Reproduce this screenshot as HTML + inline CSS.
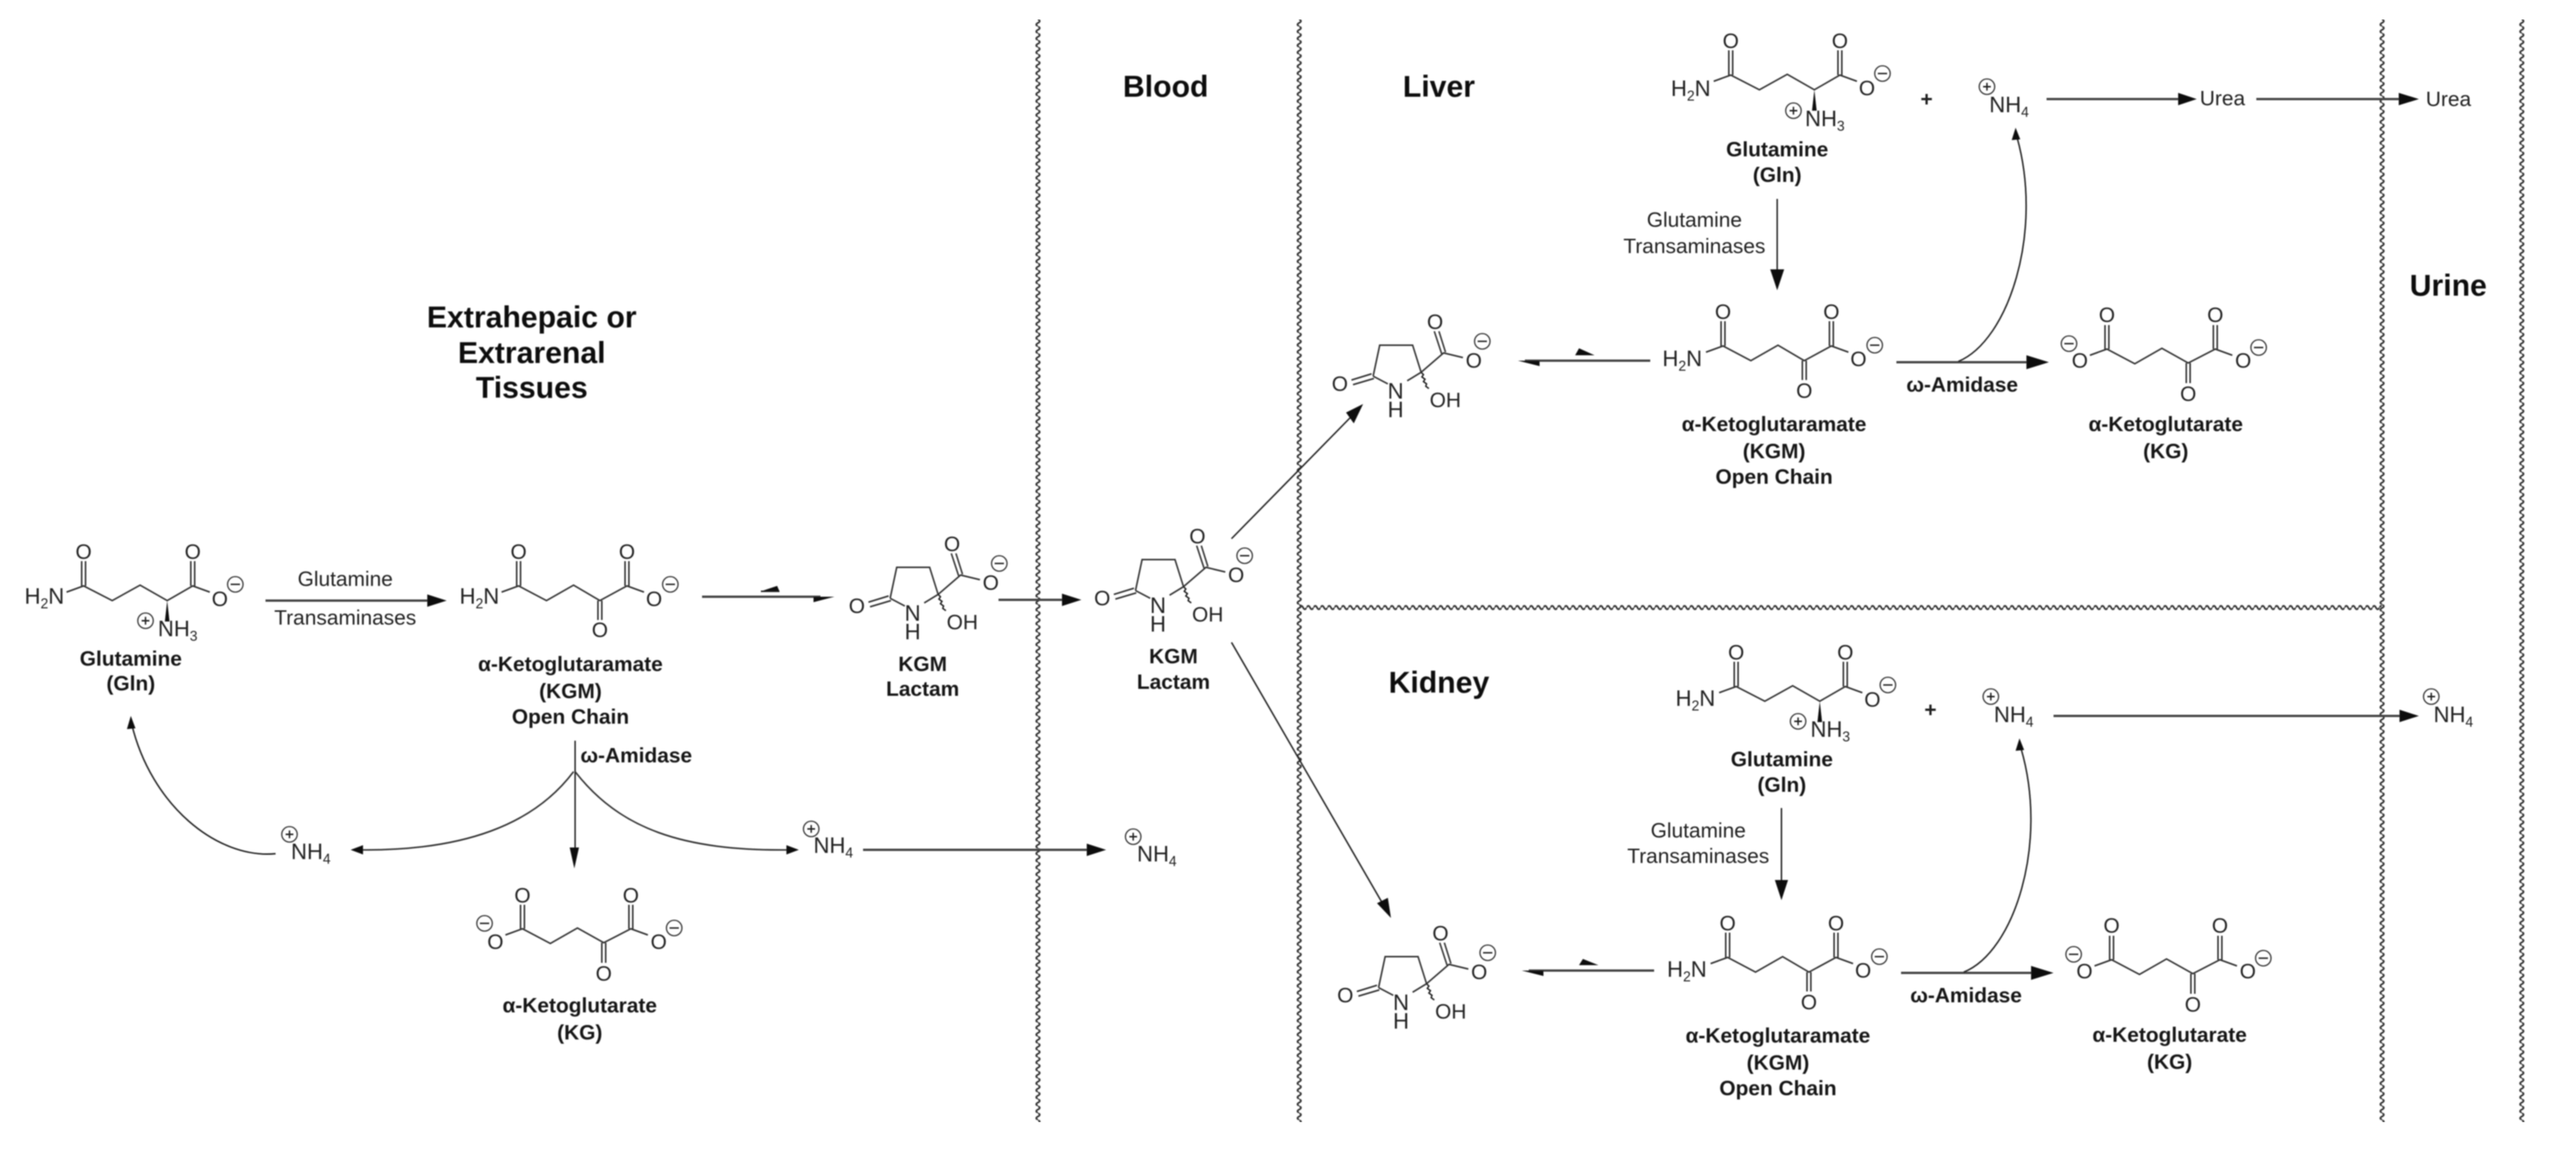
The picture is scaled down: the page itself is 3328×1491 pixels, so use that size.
<!DOCTYPE html>
<html><head><meta charset="utf-8"><title>Glutamine transaminase pathway</title>
<style>
html,body{margin:0;padding:0;background:#fff}
svg{display:block}
text{font-family:"Liberation Sans",sans-serif;fill:#222}
.a{font-size:27px}
.n{font-size:28.5px}
.b{font-size:27px;font-weight:bold;text-anchor:middle;fill:#161616}
.r{font-size:27px;text-anchor:middle}
.h{font-size:39px;font-weight:bold;text-anchor:middle;fill:#111}
.m{text-anchor:middle}
.e{text-anchor:end}
.s{font-size:18px}
.bd{fill:none;stroke:#333;stroke-width:2}
.c{fill:none;stroke:#333;stroke-width:1.6}
.t{fill:none;stroke:#222;stroke-width:1.9}
.w{fill:none;stroke:#444;stroke-width:3}
.k{fill:#0a0a0a;stroke:none}
</style></head><body>
<svg width="3328" height="1491" viewBox="0 0 3328 1491" xmlns="http://www.w3.org/2000/svg">
<defs>
<pattern id="wv" patternUnits="userSpaceOnUse" width="10" height="9"><path d="M5,0Q9.5,2.25 5,4.5Q.5,6.75 5,9" fill="none" stroke="#333" stroke-width="2.2"/></pattern>
<filter id="bl" x="0" y="0" width="100%" height="100%"><feGaussianBlur stdDeviation="0.7"/></filter>
</defs>
<rect width="3328" height="1491" fill="#fff"/>
<g filter="url(#bl)">

<!-- barriers -->
<g transform="translate(1336,25)"><rect width="10" height="1425" fill="url(#wv)"/></g>
<g transform="translate(1673.5,25)"><rect width="10" height="1425" fill="url(#wv)"/></g>
<g transform="translate(3072.5,25)"><rect width="10" height="1425" fill="url(#wv)"/></g>
<g transform="translate(3253,25)"><rect width="10" height="1425" fill="url(#wv)"/></g>
<g transform="translate(1679,790) rotate(-90)"><rect width="10" height="1398" fill="url(#wv)"/></g>

<!-- headings -->
<text class="h" x="687" y="423">Extrahepaic or</text>
<text class="h" x="687" y="469">Extrarenal</text>
<text class="h" x="687" y="514">Tissues</text>
<text class="h" x="1506" y="125">Blood</text>
<text class="h" x="1859" y="125">Liver</text>
<text class="h" x="1859" y="895">Kidney</text>
<text class="h" x="3163" y="382">Urine</text>

<!-- Gln left -->
<g transform="translate(108,757)">
<path class="bd" d="M-22,8L0,0L37,19L73,-1L108,19L141,0L163,8M-2.5,0V-32M2.5,0V-32M138.5,0V-32M143.5,0V-32"/>
<polygon class="k" points="108,19 105,46 111,46"/>
<text class="a m" x="0" y="-35">O</text><text class="a m" x="141" y="-35">O</text><text class="a m" x="176" y="26">O</text>
<text class="n e" x="-25" y="23">H<tspan class="s" dy="6">2</tspan><tspan dy="-6">N</tspan></text>
<text class="n" x="96" y="65">NH<tspan class="s" dy="6">3</tspan></text>
<circle class="c" cx="196" cy="-2" r="10"/><path class="t" d="M190,-2H202"/>
<circle class="c" cx="80" cy="45" r="10"/><path class="t" d="M75,45H85M80,40V50"/>
</g>
<text class="b" x="169" y="860">Glutamine</text><text class="b" x="169" y="892">(Gln)</text>

<!-- KGM left -->
<g transform="translate(670,757)">
<path class="bd" d="M-22,8L0,0L36,19L71,-1L105,19L140,0L162,8M-2.5,0V-32M2.5,0V-32M137.5,0V-32M142.5,0V-32M102.5,19V44M107.5,19V44"/>
<text class="a m" x="0" y="-35">O</text><text class="a m" x="140" y="-35">O</text><text class="a m" x="175" y="26">O</text><text class="a m" x="105" y="66">O</text>
<text class="n e" x="-25" y="23">H<tspan class="s" dy="6">2</tspan><tspan dy="-6">N</tspan></text>
<circle class="c" cx="196" cy="-2" r="10"/><path class="t" d="M190,-2H202"/>
</g>
<text class="b" x="737" y="867">α-Ketoglutaramate</text><text class="b" x="737" y="902">(KGM)</text><text class="b" x="737" y="935">Open Chain</text>

<!-- Lactam 1 -->
<g transform="translate(1150,773)">
<path class="bd" d="M0,0L8.5,-40H51L62,-5L44,6M0,0L19,10M-2,-3L-28,5M1,3L-26,11M62,-5L91,-30L116,-24M88.5,-29L79,-58M93.5,-31L85,-58"/>
<path class="t" d="M62,-5l3,3l-2,3l4,3l-2,3l4,3l-1,3l4,3"/>
<text class="a m" x="-43" y="19">O</text><text class="n m" x="29" y="29">N</text><text class="n m" x="29" y="53">H</text><text class="a" x="73" y="40">OH</text><text class="a m" x="80" y="-61">O</text><text class="a m" x="130" y="-11">O</text>
<circle class="c" cx="141" cy="-45" r="10"/><path class="t" d="M135,-45H147"/>
</g>
<text class="b" x="1192" y="867">KGM</text><text class="b" x="1192" y="899">Lactam</text>

<!-- Lactam blood -->
<g transform="translate(1467,763)">
<path class="bd" d="M0,0L8.5,-40H51L62,-5L44,6M0,0L19,10M-2,-3L-28,5M1,3L-26,11M62,-5L91,-30L116,-24M88.5,-29L79,-58M93.5,-31L85,-58"/>
<path class="t" d="M62,-5l3,3l-2,3l4,3l-2,3l4,3l-1,3l4,3"/>
<text class="a m" x="-43" y="19">O</text><text class="n m" x="29" y="29">N</text><text class="n m" x="29" y="53">H</text><text class="a" x="73" y="40">OH</text><text class="a m" x="80" y="-61">O</text><text class="a m" x="130" y="-11">O</text>
<circle class="c" cx="141" cy="-45" r="10"/><path class="t" d="M135,-45H147"/>
</g>
<text class="b" x="1516" y="857">KGM</text><text class="b" x="1516" y="890">Lactam</text>

<!-- Lactam liver -->
<g transform="translate(1774,486)">
<path class="bd" d="M0,0L8.5,-40H51L62,-5L44,6M0,0L19,10M-2,-3L-28,5M1,3L-26,11M62,-5L91,-30L116,-24M88.5,-29L79,-58M93.5,-31L85,-58"/>
<path class="t" d="M62,-5l3,3l-2,3l4,3l-2,3l4,3l-1,3l4,3"/>
<text class="a m" x="-43" y="19">O</text><text class="n m" x="29" y="29">N</text><text class="n m" x="29" y="53">H</text><text class="a" x="73" y="40">OH</text><text class="a m" x="80" y="-61">O</text><text class="a m" x="130" y="-11">O</text>
<circle class="c" cx="141" cy="-45" r="10"/><path class="t" d="M135,-45H147"/>
</g>

<!-- Lactam kidney -->
<g transform="translate(1781,1276)">
<path class="bd" d="M0,0L8.5,-40H51L62,-5L44,6M0,0L19,10M-2,-3L-28,5M1,3L-26,11M62,-5L91,-30L116,-24M88.5,-29L79,-58M93.5,-31L85,-58"/>
<path class="t" d="M62,-5l3,3l-2,3l4,3l-2,3l4,3l-1,3l4,3"/>
<text class="a m" x="-43" y="19">O</text><text class="n m" x="29" y="29">N</text><text class="n m" x="29" y="53">H</text><text class="a" x="73" y="40">OH</text><text class="a m" x="80" y="-61">O</text><text class="a m" x="130" y="-11">O</text>
<circle class="c" cx="141" cy="-45" r="10"/><path class="t" d="M135,-45H147"/>
</g>

<!-- KG left -->
<g transform="translate(675,1200)">
<path class="bd" d="M-22,8L0,0L36,19L71,-1L105,18L140,0L162,8M-2.5,0V-31M2.5,0V-31M137.5,0V-31M142.5,0V-31M102.5,18V44M107.5,18V44"/>
<text class="a m" x="0" y="-34">O</text><text class="a m" x="140" y="-34">O</text><text class="a m" x="105" y="67">O</text><text class="a m" x="176" y="26">O</text><text class="a m" x="-35" y="26">O</text>
<circle class="c" cx="196" cy="-1" r="10"/><path class="t" d="M190,-1H202"/>
<circle class="c" cx="-49" cy="-7" r="10"/><path class="t" d="M-55,-7H-43"/>
</g>
<text class="b" x="749" y="1308">α-Ketoglutarate</text><text class="b" x="749" y="1343">(KG)</text>

<!-- left NH4s -->
<circle class="c" cx="374" cy="1078" r="10"/><path class="t" d="M369,1078H379M374,1073V1083"/>
<text class="n" x="376" y="1110">NH<tspan class="s" dy="6">4</tspan></text>
<circle class="c" cx="1048" cy="1071" r="10"/><path class="t" d="M1043,1071H1053M1048,1066V1076"/>
<text class="n" x="1051" y="1102">NH<tspan class="s" dy="6">4</tspan></text>
<circle class="c" cx="1464" cy="1081" r="10"/><path class="t" d="M1459,1081H1469M1464,1076V1086"/>
<text class="n" x="1469" y="1113">NH<tspan class="s" dy="6">4</tspan></text>

<!-- left arrows -->
<path class="w" d="M343,776H555"/><polygon class="k" points="577,776 552,768 552,784"/>
<text class="r" x="446" y="757">Glutamine</text><text class="r" x="446" y="807">Transaminases</text>
<path class="w" d="M907,771H1060"/><polygon class="k" points="1078,771 1051,771 1051,778"/>
<polygon class="k" points="983,764 1004,757 1007,764"/><path class="t" d="M983,764H1007"/>
<path class="w" d="M1290,775H1375"/><polygon class="k" points="1397,775 1372,767 1372,783"/>
<path class="t" d="M743,957V1100"/><polygon class="k" points="742,1122 736,1095 748,1095"/>
<path class="bd" d="M741,997C690,1065 600,1100 462,1098"/><polygon class="k" points="453,1098 469,1092 469,1104"/>
<path class="bd" d="M743,997C800,1070 880,1100 1022,1098"/><polygon class="k" points="1032,1098 1016,1092 1016,1104"/>
<text class="b" x="822" y="985">ω-Amidase</text>
<path class="t" d="M356,1103C280,1110 195,1040 170,935"/><polygon class="k" points="169,925 164,942 175,941"/>
<path class="w" d="M1115,1098H1408"/><polygon class="k" points="1429,1098 1404,1090 1404,1106"/>

<!-- blood arrows -->
<path class="t" d="M1591,696L1745,539"/><polygon class="k" points="1761,522 1749,547 1739,533"/>
<path class="t" d="M1591,830L1786,1167"/><polygon class="k" points="1797,1186 1779,1167 1793,1160"/>

<!-- Liver Gln -->
<g transform="translate(2236,97)">
<path class="bd" d="M-22,8L0,0L37,19L73,-1L108,19L141,0L163,8M-2.5,0V-32M2.5,0V-32M138.5,0V-32M143.5,0V-32"/>
<polygon class="k" points="108,19 105,46 111,46"/>
<text class="a m" x="0" y="-35">O</text><text class="a m" x="141" y="-35">O</text><text class="a m" x="176" y="26">O</text>
<text class="n e" x="-26" y="27">H<tspan class="s" dy="6">2</tspan><tspan dy="-6">N</tspan></text>
<text class="n" x="96" y="66">NH<tspan class="s" dy="6">3</tspan></text>
<circle class="c" cx="196" cy="-2" r="10"/><path class="t" d="M190,-2H202"/>
<circle class="c" cx="81" cy="46" r="10"/><path class="t" d="M76,46H86M81,41V51"/>
</g>
<text class="b" x="2296" y="202">Glutamine</text><text class="b" x="2296" y="235">(Gln)</text>
<text class="a m" x="2489" y="137" style="font-weight:bold">+</text>
<circle class="c" cx="2567" cy="112" r="10"/><path class="t" d="M2562,112H2572M2567,107V117"/>
<text class="n" x="2570" y="145">NH<tspan class="s" dy="6">4</tspan></text>
<path class="t" d="M2296,257V350"/><polygon class="k" points="2296,375 2287,348 2305,348"/>
<text class="r" x="2189" y="293">Glutamine</text><text class="r" x="2189" y="327">Transaminases</text>
<path class="w" d="M2644,128H2818"/><polygon class="k" points="2838,128 2814,120 2814,136"/>
<text class="a" x="2842" y="136">Urea</text>
<path class="w" d="M2915,128H3105"/><polygon class="k" points="3125,128 3099,120 3099,136"/>
<text class="a" x="3134" y="137">Urea</text>

<!-- Liver KGM -->
<g transform="translate(2226,447)">
<path class="bd" d="M-22,8L0,0L36,19L71,-1L105,19L140,0L162,8M-2.5,0V-32M2.5,0V-32M137.5,0V-32M142.5,0V-32M102.5,19V44M107.5,19V44"/>
<text class="a m" x="0" y="-35">O</text><text class="a m" x="140" y="-35">O</text><text class="a m" x="175" y="26">O</text><text class="a m" x="105" y="67">O</text>
<text class="n e" x="-27" y="26">H<tspan class="s" dy="6">2</tspan><tspan dy="-6">N</tspan></text>
<circle class="c" cx="196" cy="-1" r="10"/><path class="t" d="M190,-1H202"/>
</g>
<text class="b" x="2292" y="557">α-Ketoglutaramate</text><text class="b" x="2292" y="592">(KGM)</text><text class="b" x="2292" y="625">Open Chain</text>
<path class="w" d="M2132,466H1970"/><polygon class="k" points="1961,466 1989,466 1989,473"/>
<polygon class="k" points="2040,450 2060,459 2035,459"/>
<path class="w" d="M2450,468H2625"/><polygon class="k" points="2647,468 2618,459 2618,477"/>
<path class="t" d="M2530,467C2595,440 2640,300 2606,178"/><polygon class="k" points="2604,165 2599,181 2610,180"/>
<text class="b" x="2535" y="506">ω-Amidase</text>

<!-- Liver KG -->
<g transform="translate(2722,451)">
<path class="bd" d="M-22,8L0,0L36,19L71,-1L105,18L140,0L162,8M-2.5,0V-31M2.5,0V-31M137.5,0V-31M142.5,0V-31M102.5,18V44M107.5,18V44"/>
<text class="a m" x="0" y="-35">O</text><text class="a m" x="140" y="-35">O</text><text class="a m" x="105" y="67">O</text><text class="a m" x="176" y="24">O</text><text class="a m" x="-35" y="24">O</text>
<circle class="c" cx="196" cy="-2" r="10"/><path class="t" d="M190,-2H202"/>
<circle class="c" cx="-49" cy="-7" r="10"/><path class="t" d="M-55,-7H-43"/>
</g>
<text class="b" x="2798" y="557">α-Ketoglutarate</text><text class="b" x="2798" y="592">(KG)</text>

<!-- Kidney Gln -->
<g transform="translate(2243,887)">
<path class="bd" d="M-22,8L0,0L37,19L73,-1L108,19L141,0L163,8M-2.5,0V-32M2.5,0V-32M138.5,0V-32M143.5,0V-32"/>
<polygon class="k" points="108,19 105,46 111,46"/>
<text class="a m" x="0" y="-35">O</text><text class="a m" x="141" y="-35">O</text><text class="a m" x="176" y="26">O</text>
<text class="n e" x="-27" y="25">H<tspan class="s" dy="6">2</tspan><tspan dy="-6">N</tspan></text>
<text class="n" x="96" y="65">NH<tspan class="s" dy="6">3</tspan></text>
<circle class="c" cx="196" cy="-2" r="10"/><path class="t" d="M190,-2H202"/>
<circle class="c" cx="80" cy="45" r="10"/><path class="t" d="M75,45H85M80,40V50"/>
</g>
<text class="b" x="2302" y="990">Glutamine</text><text class="b" x="2302" y="1023">(Gln)</text>
<text class="a m" x="2494" y="926" style="font-weight:bold">+</text>
<circle class="c" cx="2572" cy="900" r="10"/><path class="t" d="M2567,900H2577M2572,895V905"/>
<text class="n" x="2576" y="933">NH<tspan class="s" dy="6">4</tspan></text>
<path class="t" d="M2301.5,1044V1140"/><polygon class="k" points="2301.5,1163 2293,1137 2310,1137"/>
<text class="r" x="2194" y="1082">Glutamine</text><text class="r" x="2194" y="1115">Transaminases</text>
<path class="w" d="M2653,925H3105"/><polygon class="k" points="3125,925 3100,917 3100,933"/>
<circle class="c" cx="3141" cy="900" r="10"/><path class="t" d="M3136,900H3146M3141,895V905"/>
<text class="n" x="3144" y="933">NH<tspan class="s" dy="6">4</tspan></text>

<!-- Kidney KGM -->
<g transform="translate(2232,1237)">
<path class="bd" d="M-22,8L0,0L36,19L71,-1L105,19L140,0L162,8M-2.5,0V-32M2.5,0V-32M137.5,0V-32M142.5,0V-32M102.5,19V44M107.5,19V44"/>
<text class="a m" x="0" y="-35">O</text><text class="a m" x="140" y="-35">O</text><text class="a m" x="175" y="26">O</text><text class="a m" x="105" y="67">O</text>
<text class="n e" x="-27" y="25">H<tspan class="s" dy="6">2</tspan><tspan dy="-6">N</tspan></text>
<circle class="c" cx="196" cy="-1" r="10"/><path class="t" d="M190,-1H202"/>
</g>
<text class="b" x="2297" y="1347">α-Ketoglutaramate</text><text class="b" x="2297" y="1382">(KGM)</text><text class="b" x="2297" y="1415">Open Chain</text>
<path class="w" d="M2137,1254H1975"/><polygon class="k" points="1966,1254 1994,1254 1994,1261"/>
<polygon class="k" points="2045,1239 2065,1247 2040,1247"/>
<path class="w" d="M2456,1257H2630"/><polygon class="k" points="2653,1257 2624,1248 2624,1266"/>
<path class="t" d="M2537,1256C2602,1230 2647,1090 2611,967"/><polygon class="k" points="2609,954 2604,970 2615,969"/>
<text class="b" x="2540" y="1295">ω-Amidase</text>

<!-- Kidney KG -->
<g transform="translate(2728,1240)">
<path class="bd" d="M-22,8L0,0L36,19L71,-1L105,18L140,0L162,8M-2.5,0V-31M2.5,0V-31M137.5,0V-31M142.5,0V-31M102.5,18V44M107.5,18V44"/>
<text class="a m" x="0" y="-35">O</text><text class="a m" x="140" y="-35">O</text><text class="a m" x="105" y="67">O</text><text class="a m" x="176" y="24">O</text><text class="a m" x="-35" y="24">O</text>
<circle class="c" cx="196" cy="-2" r="10"/><path class="t" d="M190,-2H202"/>
<circle class="c" cx="-49" cy="-7" r="10"/><path class="t" d="M-55,-7H-43"/>
</g>
<text class="b" x="2803" y="1346">α-Ketoglutarate</text><text class="b" x="2803" y="1381">(KG)</text>
</g>
</svg>
</body></html>
